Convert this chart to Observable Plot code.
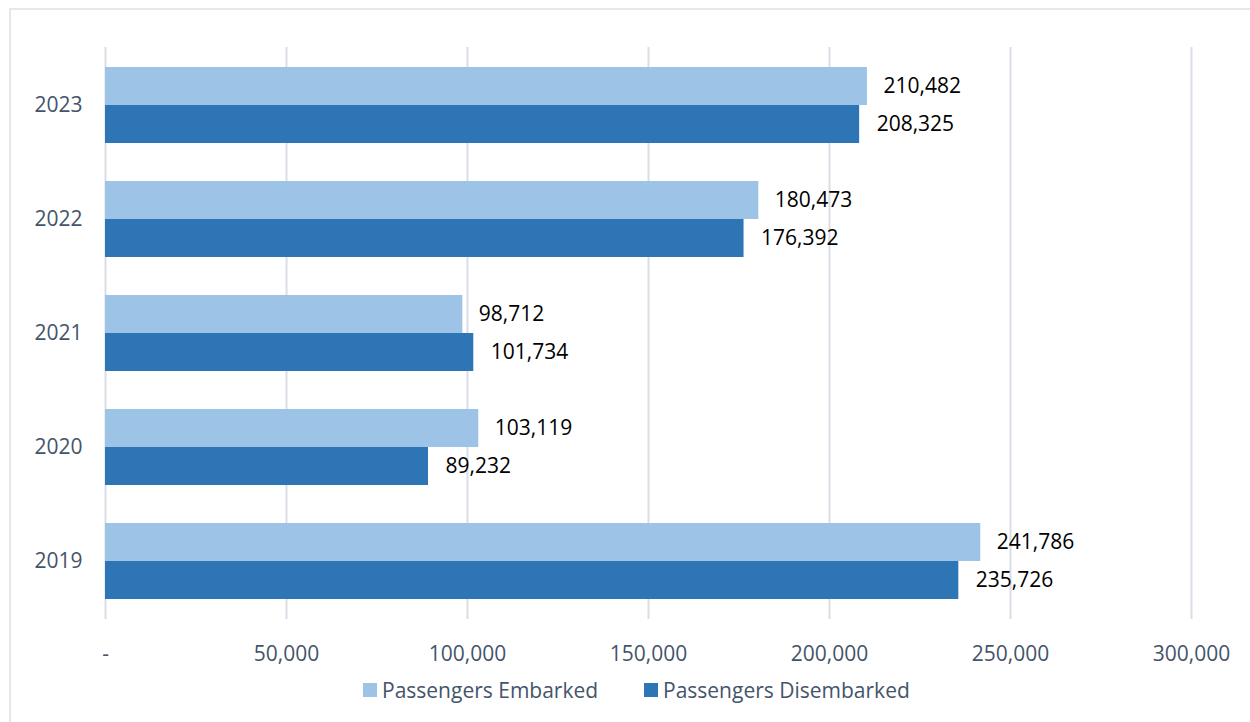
<!DOCTYPE html>
<html>
<head>
<meta charset="utf-8">
<script src="https://cdn.jsdelivr.net/npm/d3@7"></script>
<script src="https://cdn.jsdelivr.net/npm/@observablehq/plot@0.6"></script>
<style>
  html, body { margin: 0; padding: 0; background: #fff; }
  #wrap { position: relative; width: 1250px; height: 722px; overflow: hidden; font-family: "Open Sans", sans-serif; }
  #frame { position: absolute; left: 9px; top: 8px; width: 1250px; height: 730px; border-left: 2px solid #e3e7ee; border-top: 2px solid #e3e7ee; box-sizing: border-box; }
  #chart { position: absolute; left: 0; top: 0; }
  #legend { position: absolute; left: 0; top: 672px; width: 1250px; height: 40px; }
  .item { position: absolute; top: 4px; display: flex; align-items: center; font-size: 21px; color: #44546A; white-space: nowrap; }
  .sw { width: 14px; height: 14px; margin-right: 5px; }
</style>
</head>
<body>
<div id="wrap">
  <div id="frame"></div>
  <div id="chart"></div>
  <div id="legend"></div>
</div>
<script>
const years = ["2023", "2022", "2021", "2020", "2019"];
const embarked = [210482, 180473, 98712, 103119, 241786];
const disembarked = [208325, 176392, 101734, 89232, 235726];
const seriesNames = ["Passengers Embarked", "Passengers Disembarked"];
const seriesColors = ["#9DC3E6", "#2E75B6"];
const xTicks = [0, 50000, 100000, 150000, 200000, 250000, 300000];

const embData = years.map((y, i) => ({year: y, value: embarked[i]}));
const disData = years.map((y, i) => ({year: y, value: disembarked[i]}));
const fmt = d3.format(",");

const plot = Plot.plot({
  width: 1250,
  height: 672,
  marginLeft: 105,
  marginRight: 59,
  marginTop: 47,
  marginBottom: 53,
  style: {fontFamily: "Open Sans, sans-serif", fontSize: "21px", background: "transparent"},
  x: {domain: [0, 300000], ticks: xTicks, label: null},
  y: {domain: years, paddingInner: 0.336, paddingOuter: 0.168, label: null},
  marks: [
    Plot.ruleX(xTicks, {stroke: "#d9dde6", strokeWidth: 2, strokeOpacity: 1}),
    Plot.axisX({ticks: xTicks, tickSize: 0, tickPadding: 27, tickFormat: d => d === 0 ? "-" : fmt(d), fill: "#44546A", fontSize: 21, label: null}),
    Plot.axisY({tickSize: 0, tickPadding: 23, fill: "#44546A", fontSize: 21, label: null}),
    Plot.barX(embData, {y: "year", x: "value", fill: seriesColors[0], insetBottom: 38}),
    Plot.barX(disData, {y: "year", x: "value", fill: seriesColors[1], insetTop: 38}),
    Plot.text(embData, {y: "year", x: "value", text: d => fmt(d.value), dx: 16, dy: -19, textAnchor: "start", fill: "#000", fontSize: 21}),
    Plot.text(disData, {y: "year", x: "value", text: d => fmt(d.value), dx: 17, dy: 19, textAnchor: "start", fill: "#000", fontSize: 21})
  ]
});
document.getElementById("chart").appendChild(plot);

const legend = document.getElementById("legend");
const lefts = [363, 644];
seriesNames.forEach((name, i) => {
  const it = document.createElement("div");
  it.className = "item";
  it.style.left = lefts[i] + "px";
  const sw = document.createElement("div");
  sw.className = "sw";
  sw.style.background = seriesColors[i];
  const t = document.createElement("span");
  t.textContent = name;
  it.appendChild(sw);
  it.appendChild(t);
  legend.appendChild(it);
});
</script>
</body>
</html>
